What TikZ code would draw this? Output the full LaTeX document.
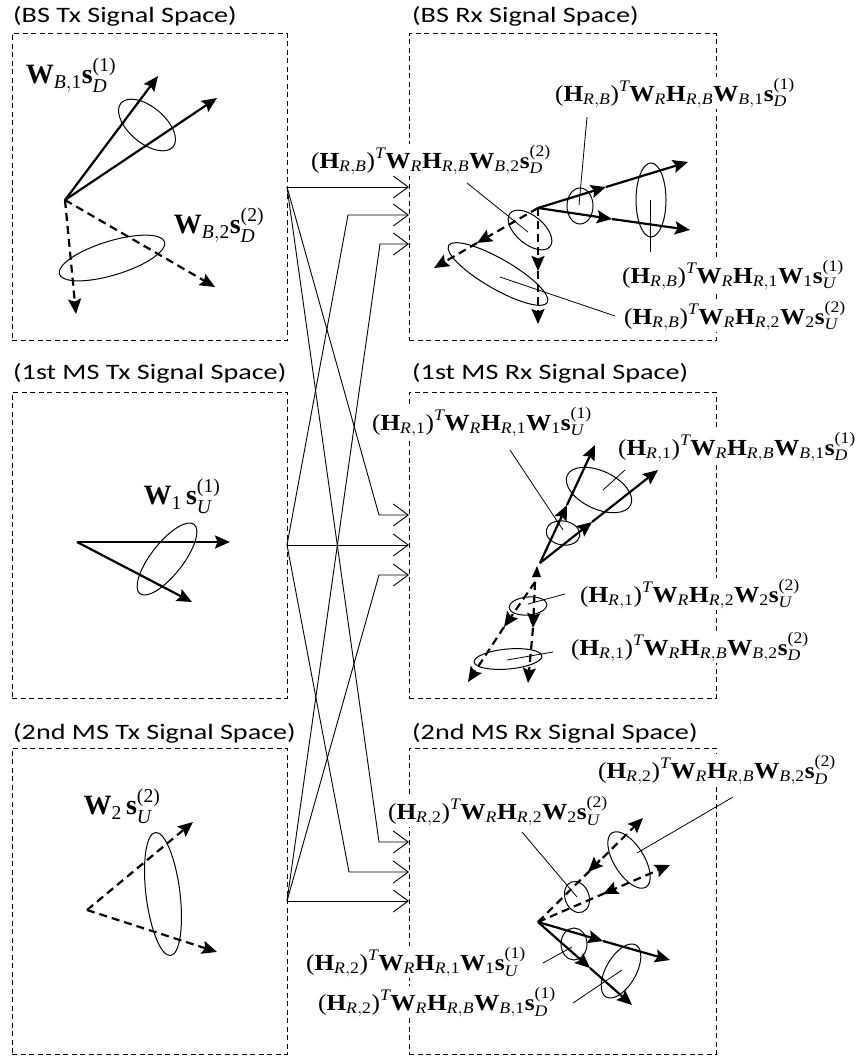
\documentclass[tikz,border=0pt]{standalone}
\usepackage{amsmath}
\usepackage{fontspec}
\setmainfont{Carlito}
\newfontfamily\tnr{Liberation Serif}
\usepackage{graphicx}
\usetikzlibrary{arrows.meta, calc}

\newcommand{\wide}[2][1.1]{\scalebox{#1}[1]{#2}}
\newcommand{\bt}[1]{\text{\tnr\bfseries #1}}
\newcommand{\ix}[1]{\text{\tnr\itshape #1}}
\newcommand{\rt}[1]{\text{\tnr #1}}
\newcommand{\RB}{\ix{R},\ix{B}}
\newcommand{\Rone}{\ix{R},\rt{1}}
\newcommand{\Rtwo}{\ix{R},\rt{2}}
% (H_a)^T W_R H_b W_c s_d^(e)
\newcommand{\rxsig}[5]{\rt{(}\bt{H}_{#1}\rt{)}^{\ix{T}}\bt{W}_{\ix{R}}\bt{H}_{#2}\bt{W}_{#3}\bt{s}_{#4}^{\rt{(#5)}}}

\begin{document}
\begin{tikzpicture}[x=1pt, y=-1pt,
    sbox/.style={draw, dash pattern=on 5pt off 3.5pt, line width=0.9pt,
                 outer sep=0pt, inner sep=0pt},
    title/.style={anchor=west, inner sep=0pt, font=\fontsize{22}{26}\selectfont},
    lbl/.style={fill=white, inner sep=1pt, font=\fontsize{23}{27}\selectfont},
    txlbl/.style={inner sep=0pt, font=\fontsize{28}{32}\selectfont},
    link/.style={line width=0.9pt, -{Straight Barb[length=15pt, width=22pt]}},
    vec/.style={line width=2.2pt, -{Stealth[length=15pt, width=13pt, inset=2.5pt]}},
    dvec/.style={vec, dash pattern=on 8pt off 5pt},
    ring/.style={line width=1pt},
    lead/.style={line width=0.8pt},
]
\useasboundingbox (0,0) rectangle (860,1060);

% --- Signal spaces ---
\node[sbox, minimum width=275pt, minimum height=307pt] (bstx) at (149.5,187) {};
\node[sbox, minimum width=275pt, minimum height=306pt] (ms1tx) at (149.5,545) {};
\node[sbox, minimum width=275pt, minimum height=306pt] (ms2tx) at (149.5,901) {};
\node[sbox, minimum width=307pt, minimum height=307pt] (bsrx) at (562.5,187) {};
\node[sbox, minimum width=307pt, minimum height=306pt] (ms1rx) at (562.5,545) {};
\node[sbox, minimum width=307pt, minimum height=306pt] (ms2rx) at (562.5,901) {};

\node[title] (bstx-t) at (13,16) {\wide[1.28]{(BS Tx Signal Space)}};
\node[title] (ms1tx-t) at (13,373) {\wide[1.28]{(1st MS Tx Signal Space)}};
\node[title] (ms2tx-t) at (13,733) {\wide[1.28]{(2nd MS Tx Signal Space)}};
\node[title] (bsrx-t) at (412,16) {\wide[1.28]{(BS Rx Signal Space)}};
\node[title] (ms1rx-t) at (412,373) {\wide[1.28]{(1st MS Rx Signal Space)}};
\node[title] (ms2rx-t) at (412,733) {\wide[1.28]{(2nd MS Rx Signal Space)}};

% --- Links ---
\coordinate (bsrx-a) at (bsrx.west);
\coordinate (bsrx-b) at ($(bsrx.west)+(0,28)$);
\coordinate (bsrx-c) at ($(bsrx.west)+(0,57)$);
\coordinate (ms1rx-a) at ($(ms1rx.west)+(0,-30)$);
\coordinate (ms1rx-b) at (ms1rx.west);
\coordinate (ms1rx-c) at ($(ms1rx.west)+(0,30)$);
\coordinate (ms2rx-a) at ($(ms2rx.west)+(0,-59)$);
\coordinate (ms2rx-b) at ($(ms2rx.west)+(0,-29)$);
\coordinate (ms2rx-c) at (ms2rx.west);

\draw[link] (bstx.east) -- (bsrx-a);
\draw[link] (bstx.east) -- ($(ms1rx-a)-(30,0)$) -- (ms1rx-a);
\draw[link] (bstx.east) -- ($(ms2rx-a)-(30,0)$) -- (ms2rx-a);
\draw[link] (ms1tx.east) -- ($(bsrx-b)-(61,0)$) -- (bsrx-b);
\draw[link] (ms1tx.east) -- (ms1rx-b);
\draw[link] (ms1tx.east) -- ($(ms2rx-b)-(60,0)$) -- (ms2rx-b);
\draw[link] (ms2tx.east) -- ($(bsrx-c)-(29,0)$) -- (bsrx-c);
\draw[link] (ms2tx.east) -- ($(ms1rx-c)-(30,0)$) -- (ms1rx-c);
\draw[link] (ms2tx.east) -- (ms2rx-c);

% --- BS Tx ---
\draw[vec] (65,200) -- (158,76);
\draw[vec] (65,200) -- (217,98);
\draw[dvec] (65,200) -- (76,314);
\draw[dvec] (65,200) -- (215,287);
\draw[ring, rotate around={-40:(147,125)}] (147,125) ellipse [x radius=34, y radius=18];
\draw[ring, rotate around={17:(112,258)}] (112,258) ellipse [x radius=55, y radius=17];
\node[txlbl] (bstx-l1) at (71,75) {$\bt{W}_{\ix{B},\rt{1}}\bt{s}_{\ix{D}}^{\rt{(1)}}$};
\node[txlbl] (bstx-l2) at (219,225) {$\bt{W}_{\ix{B},\rt{2}}\bt{s}_{\ix{D}}^{\rt{(2)}}$};

% --- 1st MS Tx ---
\draw[vec] (77,542) -- (230,542);
\draw[vec] (77,542) -- (192,602);
\draw[ring, rotate around={52:(167,559)}] (167,559) ellipse [x radius=44, y radius=16];
\node[txlbl] (ms1tx-l) at (182,496) {$\bt{W}_{\rt{1}}\,\bt{s}_{\ix{U}}^{\rt{(1)}}$};

% --- 2nd MS Tx ---
\draw[dvec] (87,910) -- (193,822);
\draw[dvec] (87,910) -- (217,952);
\draw[ring, rotate around={7:(163,894)}] (163,894) ellipse [x radius=17, y radius=62];
\node[txlbl] (ms2tx-l) at (122,806) {$\bt{W}_{\rt{2}}\,\bt{s}_{\ix{U}}^{\rt{(2)}}$};

% --- BS Rx ---
\draw[vec] (538,208) -- (606,187);
\draw[vec] (606,187) -- (688,162);
\draw[vec] (538,208) -- (612,219);
\draw[vec] (612,219) -- (690,230);
\draw[dvec] (538,208) -- (538,271);
\draw[dvec] (538,271) -- (538,324);
\draw[dvec] (538,208) -- (477,243);
\draw[dvec] (477,243) -- (434,268);
\draw[ring] (580,206) ellipse [x radius=13, y radius=18];
\draw[ring] (651,200) ellipse [x radius=15, y radius=37];
\draw[ring, rotate around={-40:(530,230)}] (530,230) ellipse [x radius=26, y radius=14];
\draw[ring, rotate around={-30:(498,274)}] (498,274) ellipse [x radius=57, y radius=15];
\draw[lead] (587,117) -- (579,205);
\draw[lead] (650,200) -- (650,252);
\draw[lead] (467,183) -- (528,232);
\draw[lead] (500,277) -- (615,316);
\node[lbl] (bsrx-l1) at (675,93) {\wide{$\rxsig{\RB}{\RB}{\ix{B},\rt{1}}{\ix{D}}{1}$}};
\node[lbl] (bsrx-l2) at (431,160) {\wide{$\rxsig{\RB}{\RB}{\ix{B},\rt{2}}{\ix{D}}{2}$}};
\node[lbl] (bsrx-l3) at (733,275) {\wide{$\rxsig{\RB}{\Rone}{\rt{1}}{\ix{U}}{1}$}};
\node[lbl] (bsrx-l4) at (735,316) {\wide{$\rxsig{\RB}{\Rtwo}{\rt{2}}{\ix{U}}{2}$}};

% --- 1st MS Rx ---
\draw[vec] (540,563) -- (567,505);
\draw[vec] (567,505) -- (595,445);
\draw[vec] (540,563) -- (592,522);
\draw[vec] (592,522) -- (658,470);
\fill (532,577) -- (541,577) -- (537,566) -- cycle;
\draw[dvec] (535,582) -- (504,627);
\draw[dvec] (504,627) -- (468,682);
\draw[dvec] (535,582) -- (533,628);
\draw[dvec] (533,628) -- (528,683);
\draw[ring, rotate around={-10:(563,533)}] (563,533) ellipse [x radius=17, y radius=12];
\draw[ring, rotate around={-25:(599,490)}] (599,490) ellipse [x radius=35, y radius=19];
\draw[ring, rotate around={5:(528,606)}] (528,606) ellipse [x radius=19, y radius=9];
\draw[ring, rotate around={5:(508,659)}] (508,659) ellipse [x radius=34, y radius=10];
\draw[lead] (510,450) -- (563,530);
\draw[lead] (603,490) -- (625,470);
\draw[lead] (528,604) -- (565,594);
\draw[lead] (507,660) -- (553,652);
\node[lbl] (ms1rx-l1) at (482,422) {\wide{$\rxsig{\Rone}{\Rone}{\rt{1}}{\ix{U}}{1}$}};
\node[lbl] (ms1rx-l2) at (737,447) {\wide{$\rxsig{\Rone}{\RB}{\ix{B},\rt{1}}{\ix{D}}{1}$}};
\node[lbl] (ms1rx-l3) at (690,594) {\wide{$\rxsig{\Rone}{\Rtwo}{\rt{2}}{\ix{U}}{2}$}};
\node[lbl] (ms1rx-l4) at (690,647) {\wide{$\rxsig{\Rone}{\RB}{\ix{B},\rt{2}}{\ix{D}}{2}$}};

% --- 2nd MS Rx ---
\draw[vec] (538,922) -- (603,941);
\draw[vec] (603,941) -- (670,960);
\draw[vec] (538,922) -- (590,968);
\draw[vec] (590,968) -- (632,1005);
\draw[dvec] (538,922) -- (643,818);
\draw[dvec] (538,922) -- (670,865);
\draw[vec] (600,860) -- (588,872);
\draw[vec] (614,889) -- (603,894);
\draw[ring] (574,944) ellipse [x radius=13, y radius=16];
\draw[ring, rotate around={60:(621,971)}] (621,971) ellipse [x radius=30, y radius=15];
\draw[ring, rotate around={20:(577,897)}] (577,897) ellipse [x radius=12, y radius=16];
\draw[ring, rotate around={-58:(629,860)}] (629,860) ellipse [x radius=32, y radius=15];
\draw[lead] (522,832) -- (577,897);
\draw[lead] (733,797) -- (637,853);
\draw[lead] (543,963) -- (572,947);
\draw[lead] (573,1003) -- (622,970);
\node[lbl] (ms2rx-l1) at (717,770) {\wide{$\rxsig{\Rtwo}{\RB}{\ix{B},\rt{2}}{\ix{D}}{2}$}};
\node[lbl] (ms2rx-l2) at (498,811) {\wide{$\rxsig{\Rtwo}{\Rtwo}{\rt{2}}{\ix{U}}{2}$}};
\node[lbl] (ms2rx-l3) at (416,962) {\wide{$\rxsig{\Rtwo}{\Rone}{\rt{1}}{\ix{U}}{1}$}};
\node[lbl] (ms2rx-l4) at (437,1002) {\wide{$\rxsig{\Rtwo}{\RB}{\ix{B},\rt{1}}{\ix{D}}{1}$}};
\end{tikzpicture}
\end{document}
